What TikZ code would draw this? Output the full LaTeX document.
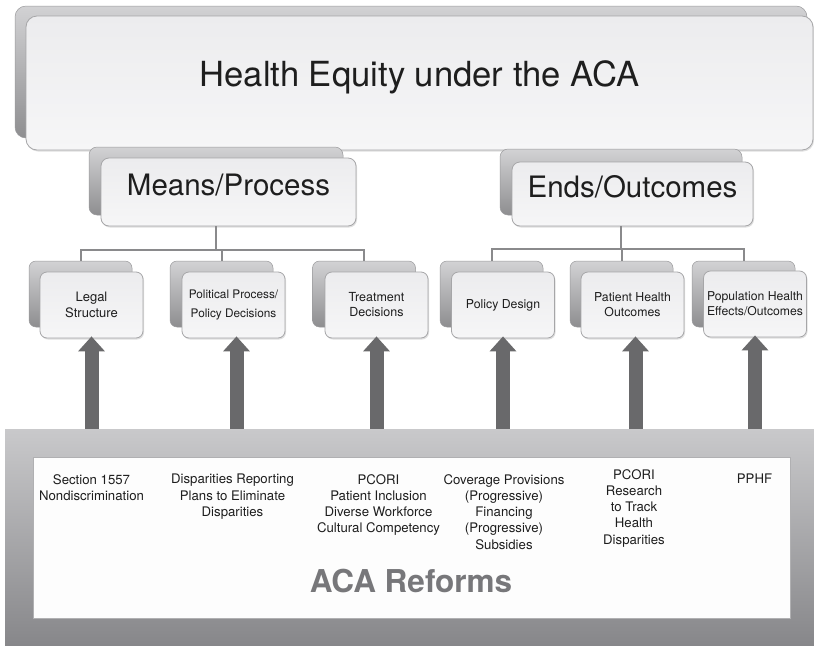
\documentclass[tikz,border=0pt]{standalone}
\usepackage{fontspec}
\setmainfont{TeX Gyre Heros}
\usetikzlibrary{arrows.meta,shadows}
\definecolor{txt}{HTML}{1E1E1E}
\definecolor{backtop}{HTML}{D2D2D4}
\definecolor{backbot}{HTML}{8E8E90}
\definecolor{backedge}{HTML}{9A9A9C}
\definecolor{fronttop}{HTML}{ECECEE}
\definecolor{frontbot}{HTML}{F6F6F7}
\definecolor{frontedge}{HTML}{A6A6A8}
\definecolor{conncol}{HTML}{8A8A8C}
\definecolor{arrowcol}{HTML}{69696B}
\definecolor{frametop}{HTML}{C9C9CB}
\definecolor{framebot}{HTML}{87878A}
\definecolor{panelcol}{HTML}{FDFDFD}
\definecolor{paneledge}{HTML}{B0B0B2}
\definecolor{acagray}{HTML}{77777A}
\begin{document}
\begin{tikzpicture}[x=1pt,y=-1pt,
  backcard/.style={top color=backtop, bottom color=backbot, draw=backedge, line width=0.5pt, inner sep=0pt},
  frontcard/.style={top color=fronttop, bottom color=frontbot, draw=frontedge, line width=0.8pt, inner sep=0pt, text=txt, align=center,
    drop shadow={opacity=0.25, shadow xshift=1pt, shadow yshift=-1.5pt}},
  smallB/.style={backcard, rounded corners=7pt, minimum width=103pt, minimum height=66pt},
  smallF/.style={frontcard, rounded corners=7pt, minimum width=103pt, minimum height=66pt, font=\fontsize{13}{16}\selectfont},
  midfont/.style={font=\fontsize{29.5}{34}\selectfont, text height=0.72em, text depth=0pt},
  conn/.style={draw=conncol, line width=2pt},
  bigarrow/.style={draw=arrowcol, line width=14pt, -{Triangle[width=26pt,length=15pt]}, arrowcol, shorten >=-2pt},
  colt/.style={align=center, inner sep=0pt, font=\fontsize{13.2}{16.25}\selectfont, text=txt, anchor=north}
]
\useasboundingbox (0,0) rectangle (814,646);
\fill[white] (0,0) rectangle (814,646);

% top title cards
\node[backcard, rounded corners=11pt, minimum width=792pt, minimum height=132pt] (topB) at (411,72) {};
\node[frontcard, rounded corners=11pt, minimum width=787pt, minimum height=134pt,
  font=\fontsize{34.6}{40}\selectfont, text height=0.72em, text depth=0pt] (topF) at (419.5,83) {Health Equity under the ACA};

% second level
\node[backcard, rounded corners=8pt, minimum width=254pt, minimum height=68pt] (meansB) at (216,181) {};
\node[frontcard, rounded corners=8pt, minimum width=255pt, minimum height=68pt, midfont] (meansF) at (228.5,192) {Means/Process};
\node[backcard, rounded corners=8pt, minimum width=242pt, minimum height=66pt] (endsB) at (621,182) {};
\node[frontcard, rounded corners=8pt, minimum width=241pt, minimum height=64pt, midfont] (endsF) at (632.5,194) {Ends/Outcomes};

% third level
\node[smallB] (legalB) at (80.5,294) {};
\node[smallF] (legalF) at (91.5,305) {Legal\\Structure};
\node[smallB] (polB) at (221.5,294) {};
\node[smallF, font=\fontsize{11.8}{19}\selectfont] (polF) at (233.5,305) {Political Process/\\Policy Decisions};
\node[smallB] (treatB) at (364,294) {};
\node[smallF, font=\fontsize{12.5}{15}\selectfont] (treatF) at (376.5,305) {Treatment\\Decisions};
\node[smallB] (desB) at (491.5,294) {};
\node[smallF, font=\fontsize{12.3}{15}\selectfont] (desF) at (503,305) {Policy Design};
\node[smallB] (patB) at (621.5,294) {};
\node[smallF, font=\fontsize{12.3}{15}\selectfont] (patF) at (632.5,305) {Patient Health\\Outcomes};
\node[smallB] (popB) at (743.5,294) {};
\node[smallF, font=\fontsize{12.2}{15}\selectfont] (popF) at (755,304) {Population Health\\Effects/Outcomes};

% tree connectors
\coordinate (busL) at (216,250);
\coordinate (busR) at (621,249);
\draw[conn] (meansF.south -| meansB.center) -- (busL);
\draw[conn] (legalB.north) |- (busL);
\draw[conn] (polB.north) |- (busL);
\draw[conn] (treatB.north) |- (busL);
\draw[conn] (endsF.south -| endsB.center) -- (busR);
\draw[conn] (desB.north) |- (busR);
\draw[conn] (patB.north) |- (busR);
\draw[conn] (popB.north) |- (busR);

% bottom frame
\node[top color=frametop, bottom color=framebot, inner sep=0pt, minimum width=809pt, minimum height=216pt] (frame) at (409.5,537) {};
\node[fill=panelcol, draw=paneledge, line width=0.6pt, inner sep=0pt, minimum width=757pt, minimum height=161pt] (panel) at (411.5,537.5) {};

% arrows
\draw[bigarrow] (legalF.south |- frame.north) -- (legalF.south);
\draw[bigarrow] ([xshift=3pt]polF.south |- frame.north) -- ([xshift=3pt]polF.south);
\draw[bigarrow] (treatF.south |- frame.north) -- (treatF.south);
\draw[bigarrow] (desF.south |- frame.north) -- (desF.south);
\draw[bigarrow] ([xshift=3pt]patF.south |- frame.north) -- ([xshift=3pt]patF.south);
\draw[bigarrow] (popF.south |- frame.north) -- (popF.south);

% reform texts
\node[colt] (r1) at (91.5,474) {Section 1557\\Nondiscrimination};
\node[colt] (r2) at (232.5,474) {Disparities Reporting\\Plans to Eliminate\\Disparities};
\node[colt] (r3) at (378.5,474) {PCORI\\Patient Inclusion\\Diverse Workforce\\Cultural Competency};
\node[colt] (r4) at (504,474) {Coverage Provisions\\(Progressive)\\Financing\\(Progressive)\\Subsidies};
\node[colt] (r5) at (634,469) {PCORI\\Research\\to Track\\Health\\Disparities};
\node[colt] (r6) at (754.5,474) {PPHF};
\node[anchor=base, inner sep=0pt, font=\bfseries\fontsize{31.5}{36}\selectfont, text=acagray] (aca) at (411,592) {ACA Reforms};
\end{tikzpicture}
\end{document}
